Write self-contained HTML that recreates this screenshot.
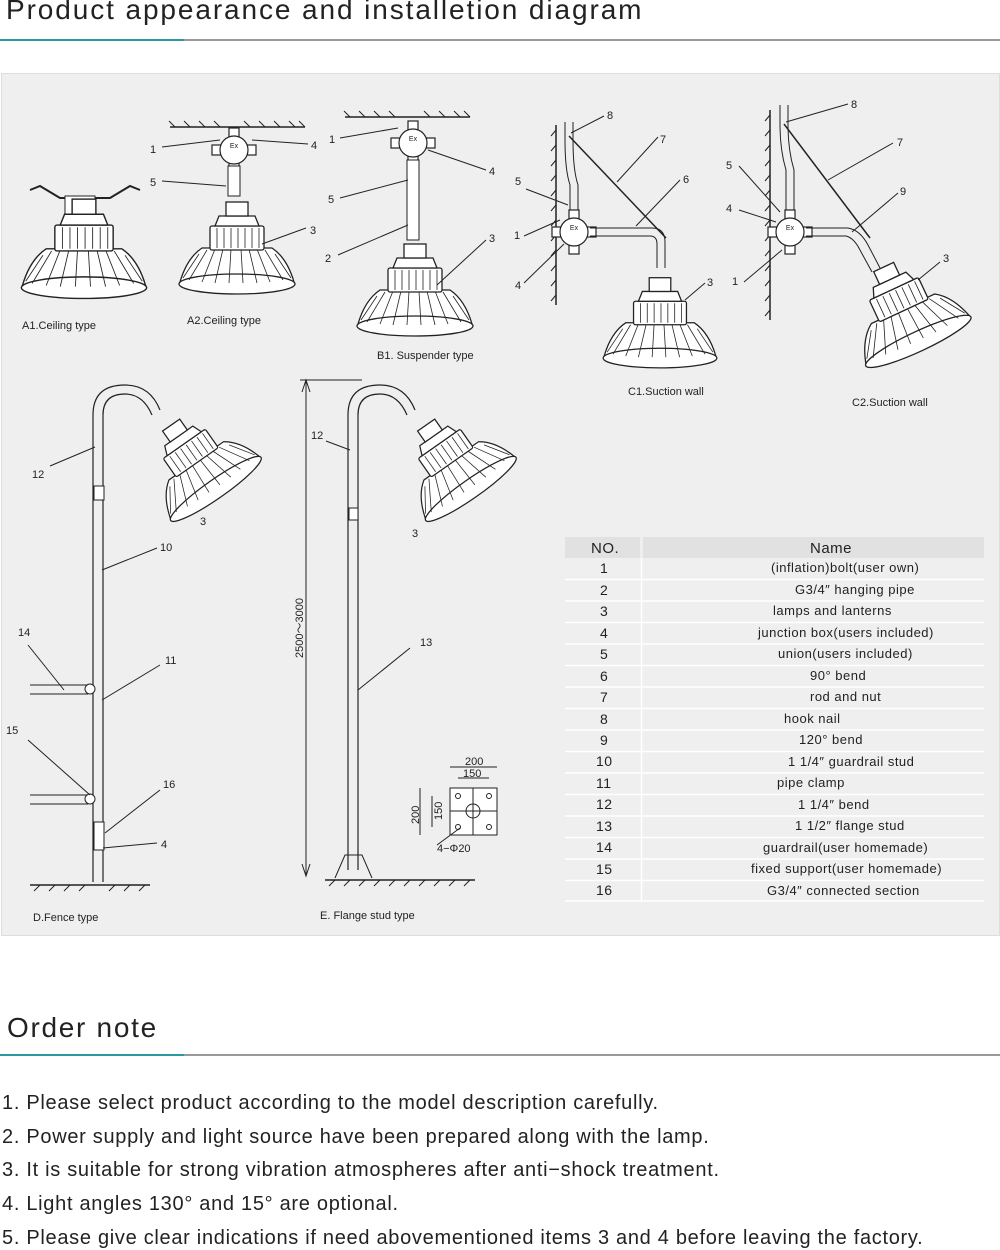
<!DOCTYPE html>
<html><head><meta charset="utf-8"><style>
body{margin:0;width:1000px;height:1250px;background:#fff;font-family:"Liberation Sans",sans-serif;color:#222;position:relative;overflow:hidden}
.h{position:absolute;left:6px;font-size:28px;letter-spacing:1.9px;color:#222;white-space:nowrap}
.ln{position:absolute;height:2px;background:#999}
.tl{position:absolute;height:2px;background:#2a9aa0}
.panel{position:absolute;left:1px;top:73px;width:997px;height:861px;background:#efefef;border:1px solid #ddd}
.note{position:absolute;left:2px;font-size:20px;color:#222;letter-spacing:.7px;white-space:nowrap}
svg text{font-family:"Liberation Sans",sans-serif;fill:#222}
.tb text{letter-spacing:.5px}
</style></head><body>
<div class="h" style="top:-6px">Product appearance and installetion diagram</div>
<div class="ln" style="left:0;top:39px;width:1000px"></div>
<div class="tl" style="left:0;top:39px;width:184px"></div>
<div class="panel"></div>
<svg style="position:absolute;left:0;top:0" width="1000" height="940">
<defs>
<g id="lamp" stroke="#222" stroke-width="1.3" fill="#fff">
<path d="M-57,-6 Q-50,-30 -35,-40 L35,-40 Q50,-30 57,-6 Z"/>
<ellipse cx="0" cy="-4" rx="58" ry="10"/>
<g stroke-width="0.8">
<line x1="-30" y1="-38" x2="-48" y2="-8"/><line x1="-22" y1="-39" x2="-35" y2="-6"/><line x1="-14" y1="-39" x2="-22" y2="-5"/><line x1="-6" y1="-39" x2="-8" y2="-5"/><line x1="4" y1="-39" x2="6" y2="-5"/><line x1="12" y1="-39" x2="20" y2="-5"/><line x1="20" y1="-39" x2="33" y2="-6"/><line x1="28" y1="-38" x2="46" y2="-8"/>
<line x1="-38" y1="-34" x2="-54" y2="-10"/><line x1="38" y1="-34" x2="54" y2="-10"/>
</g>
<rect x="-27" y="-62" width="54" height="24" rx="2"/>
<g stroke-width="0.8"><line x1="-20" y1="-60" x2="-20" y2="-40"/><line x1="-13" y1="-60" x2="-13" y2="-40"/><line x1="-6" y1="-60" x2="-6" y2="-40"/><line x1="1" y1="-60" x2="1" y2="-40"/><line x1="8" y1="-60" x2="8" y2="-40"/><line x1="15" y1="-60" x2="15" y2="-40"/><line x1="22" y1="-60" x2="22" y2="-40"/></g>
<path d="M-22,-62 L-18,-72 L18,-72 L22,-62 Z"/>
<rect x="-11" y="-86" width="22" height="14"/>
</g>
<g id="jb" stroke="#222" stroke-width="1.2" fill="#fff">
<rect x="-22" y="-5" width="44" height="10"/><rect x="-5" y="-22" width="10" height="44"/>
<circle r="14"/><text x="0" y="-2" font-size="7" text-anchor="middle" stroke="none" fill="#222">Ex</text>
</g>
</defs>
<g stroke="#222" stroke-width="1" fill="none" font-size="11">
<!-- A1 -->
<path d="M30,190 L40,186 L60,198 L110,198 L130,186 L140,190" stroke-width="2"/>
<rect x="65" y="196" width="30" height="20" fill="#fff"/>
<use href="#lamp" transform="translate(84,292) scale(1.08)"/>
<!-- A2 -->
<line x1="170" y1="127" x2="305" y2="127" stroke-width="1.5"/>
<path d="M175,127 l-6,-6 M190,127 l-6,-6 M205,127 l-6,-6 M220,127 l-6,-6 M250,127 l-6,-6 M265,127 l-6,-6 M280,127 l-6,-6 M295,127 l-6,-6 M305,127 l-6,-6"/>
<use href="#jb" transform="translate(234,150)"/>
<rect x="228" y="166" width="12" height="30" fill="#fff"/>
<use href="#lamp" transform="translate(237,288)"/>
<line x1="162" y1="147" x2="220" y2="140"/><line x1="252" y1="140" x2="308" y2="144"/><line x1="162" y1="181" x2="226" y2="186"/><line x1="262" y1="244" x2="306" y2="228"/>
<!-- B1 -->
<line x1="345" y1="117" x2="470" y2="117" stroke-width="1.5"/>
<path d="M350,117 l-6,-6 M365,117 l-6,-6 M380,117 l-6,-6 M395,117 l-6,-6 M430,117 l-6,-6 M445,117 l-6,-6 M460,117 l-6,-6 M470,117 l-6,-6"/>
<use href="#jb" transform="translate(413,143)"/>
<rect x="407" y="160" width="12" height="80" fill="#fff"/>
<use href="#lamp" transform="translate(415,330)"/>
<line x1="340" y1="138" x2="398" y2="128"/><line x1="428" y1="150" x2="486" y2="170"/><line x1="340" y1="198" x2="408" y2="180"/><line x1="338" y1="255" x2="408" y2="225"/><line x1="437" y1="285" x2="486" y2="240"/>
<!-- C1 -->
<line x1="556" y1="125" x2="556" y2="305" stroke-width="1.5"/>
<path d="M556,130 l-5,6 M556,145 l-5,6 M556,160 l-5,6 M556,175 l-5,6 M556,190 l-5,6 M556,205 l-5,6 M556,220 l-5,6 M556,235 l-5,6 M556,250 l-5,6 M556,265 l-5,6 M556,280 l-5,6 M556,295 l-5,6"/>
<line x1="565" y1="122" x2="565" y2="140"/><line x1="573" y1="122" x2="573" y2="140"/>
<path d="M565,140 Q565,170 570,185 L570,215 M573,140 Q573,170 578,185 L578,215"/>
<use href="#jb" transform="translate(574,232)"/>
<path d="M590,228 L652,228 Q665,228 665,242 L665,268 M590,236 L650,236 Q657,236 657,244 L657,268"/>
<line x1="569" y1="136" x2="666" y2="238" stroke-width="1.5"/>
<use href="#lamp" transform="translate(660,362) scale(0.98)"/>
<line x1="571" y1="133" x2="604" y2="116"/><line x1="617" y1="182" x2="658" y2="137"/><line x1="636" y1="226" x2="680" y2="180"/><line x1="526" y1="189" x2="568" y2="205"/><line x1="524" y1="236" x2="560" y2="220"/><line x1="524" y1="283" x2="564" y2="244"/><line x1="685" y1="300" x2="705" y2="283"/>
<!-- C2 -->
<line x1="770" y1="110" x2="770" y2="320" stroke-width="1.5"/>
<path d="M770,115 l-5,6 M770,130 l-5,6 M770,145 l-5,6 M770,160 l-5,6 M770,175 l-5,6 M770,190 l-5,6 M770,205 l-5,6 M770,220 l-5,6 M770,235 l-5,6 M770,250 l-5,6 M770,265 l-5,6 M770,280 l-5,6 M770,295 l-5,6 M770,310 l-5,6"/>
<line x1="780" y1="105" x2="780" y2="125"/><line x1="788" y1="105" x2="788" y2="125"/>
<path d="M780,125 Q780,150 786,170 L786,215 M788,125 Q788,150 794,170 L794,215"/>
<use href="#jb" transform="translate(790,232)"/>
<path d="M806,228 L848,228 Q860,230 868,245 L880,268 M806,236 L846,236 Q854,238 860,250 L872,272"/>
<line x1="784" y1="124" x2="870" y2="238" stroke-width="1.5"/>
<use href="#lamp" transform="translate(920,345) rotate(-25)"/>
<line x1="786" y1="122" x2="848" y2="104"/><line x1="828" y1="180" x2="893" y2="143"/><line x1="852" y1="232" x2="898" y2="193"/><line x1="739" y1="166" x2="780" y2="212"/><line x1="739" y1="210" x2="776" y2="222"/><line x1="744" y1="282" x2="782" y2="250"/><line x1="918" y1="280" x2="940" y2="262"/>
<!-- D -->
<path d="M93,882 L93,415 Q93,385 125,385 Q150,385 160,410 M103,882 L103,415 Q103,394 125,394 Q143,394 152,415" stroke-width="1.2"/>
<use href="#lamp" transform="translate(218,492) rotate(-35) scale(0.95)"/>
<line x1="30" y1="885" x2="150" y2="885" stroke-width="1.5"/>
<path d="M40,885 l-6,6 M55,885 l-6,6 M70,885 l-6,6 M85,885 l-6,6 M115,885 l-6,6 M130,885 l-6,6 M145,885 l-6,6"/>
<path d="M30,685 L88,685 M30,694 L88,694 M30,795 L88,795 M30,804 L88,804"/>
<circle cx="90" cy="689" r="5" fill="#fff"/><circle cx="90" cy="799" r="5" fill="#fff"/>
<rect x="94" y="486" width="10" height="14" fill="#fff"/><rect x="94" y="822" width="10" height="28" fill="#fff"/>
<line x1="50" y1="466" x2="95" y2="447"/><line x1="102" y1="570" x2="157" y2="548"/><line x1="102" y1="700" x2="160" y2="665"/><line x1="28" y1="645" x2="64" y2="690"/><line x1="28" y1="740" x2="90" y2="795"/><line x1="105" y1="833" x2="160" y2="790"/><line x1="103" y1="848" x2="157" y2="843"/>
<!-- E -->
<path d="M348,870 L348,415 Q348,385 380,385 Q405,385 415,410 M358,870 L358,415 Q358,394 380,394 Q398,394 407,415" stroke-width="1.2"/>
<use href="#lamp" transform="translate(473,492) rotate(-35) scale(0.95)"/>
<rect x="349" y="508" width="9" height="12" fill="#fff"/>
<path d="M335,878 L345,855 L362,855 L372,878"/>
<line x1="325" y1="880" x2="475" y2="880" stroke-width="1.5"/>
<path d="M335,880 l-6,6 M350,880 l-6,6 M365,880 l-6,6 M380,880 l-6,6 M395,880 l-6,6 M410,880 l-6,6 M425,880 l-6,6 M440,880 l-6,6 M455,880 l-6,6 M470,880 l-6,6"/>
<line x1="300" y1="380" x2="362" y2="380"/><line x1="306" y1="382" x2="306" y2="876"/>
<path d="M302,392 L306,380 L310,392 M302,864 L306,876 L310,864"/>
<line x1="326" y1="441" x2="350" y2="450"/><line x1="358" y1="690" x2="410" y2="648"/>
<rect x="450" y="788" width="47" height="47" fill="#fff"/><line x1="473" y1="788" x2="473" y2="835"/><line x1="450" y1="811" x2="497" y2="811"/><circle cx="473" cy="811" r="7"/>
<circle cx="458" cy="796" r="2.5"/><circle cx="489" cy="796" r="2.5"/><circle cx="458" cy="827" r="2.5"/><circle cx="489" cy="827" r="2.5"/>
<line x1="450" y1="767" x2="497" y2="767"/><line x1="458" y1="778" x2="489" y2="778"/>
<line x1="420" y1="788" x2="420" y2="835"/><line x1="432" y1="796" x2="432" y2="827"/>
<line x1="437" y1="845" x2="460" y2="828"/>
</g>
<g font-size="11">
<text x="150" y="153">1</text><text x="150" y="186">5</text><text x="311" y="149">4</text><text x="310" y="234">3</text>
<text x="329" y="143">1</text><text x="489" y="175">4</text><text x="328" y="203">5</text><text x="325" y="262">2</text><text x="489" y="242">3</text>
<text x="607" y="119">8</text><text x="660" y="143">7</text><text x="683" y="183">6</text><text x="515" y="185">5</text><text x="514" y="239">1</text><text x="515" y="289">4</text><text x="707" y="286">3</text>
<text x="851" y="108">8</text><text x="897" y="146">7</text><text x="900" y="195">9</text><text x="726" y="169">5</text><text x="726" y="212">4</text><text x="732" y="285">1</text><text x="943" y="262">3</text>
<text x="32" y="478">12</text><text x="160" y="551">10</text><text x="165" y="664">11</text><text x="18" y="636">14</text><text x="6" y="734">15</text><text x="163" y="788">16</text><text x="161" y="848">4</text><text x="200" y="525">3</text>
<text x="311" y="439">12</text><text x="420" y="646">13</text><text x="412" y="537">3</text>
<text x="465" y="765">200</text><text x="463" y="777">150</text><text x="437" y="852">4−Φ20</text>
<text transform="translate(419,824) rotate(-90)">200</text><text transform="translate(442,820) rotate(-90)">150</text>
<text transform="translate(303,658) rotate(-90)">2500～3000</text>
<text x="22" y="329">A1.Ceiling type</text><text x="187" y="324">A2.Ceiling type</text><text x="377" y="359">B1. Suspender type</text>
<text x="628" y="395">C1.Suction wall</text><text x="852" y="406">C2.Suction wall</text>
<text x="33" y="921">D.Fence type</text><text x="320" y="919">E. Flange stud type</text>
</g>
<g font-size="13" class="tb">
<rect x="565" y="537" width="75" height="21" fill="#e1e1e1"/><rect x="643" y="537" width="341" height="21" fill="#e1e1e1"/>
<text x="591" y="553" font-size="15">NO.</text><text x="810" y="553" font-size="15">Name</text>
<g stroke="#fff" stroke-width="1.5"><line x1="565" y1="579.5" x2="984" y2="579.5"/><line x1="565" y1="601" x2="984" y2="601"/><line x1="565" y1="622.5" x2="984" y2="622.5"/><line x1="565" y1="644" x2="984" y2="644"/><line x1="565" y1="665.5" x2="984" y2="665.5"/><line x1="565" y1="687" x2="984" y2="687"/><line x1="565" y1="708.5" x2="984" y2="708.5"/><line x1="565" y1="730" x2="984" y2="730"/><line x1="565" y1="751.5" x2="984" y2="751.5"/><line x1="565" y1="773" x2="984" y2="773"/><line x1="565" y1="794.5" x2="984" y2="794.5"/><line x1="565" y1="816" x2="984" y2="816"/><line x1="565" y1="837.5" x2="984" y2="837.5"/><line x1="565" y1="859" x2="984" y2="859"/><line x1="565" y1="880.5" x2="984" y2="880.5"/><line x1="565" y1="901" x2="984" y2="901"/><line x1="641.5" y1="558" x2="641.5" y2="901"/></g>
<g font-size="14"><text x="600" y="573">1</text><text x="600" y="595">2</text><text x="600" y="616">3</text><text x="600" y="638">4</text><text x="600" y="659">5</text><text x="600" y="681">6</text><text x="600" y="702">7</text><text x="600" y="724">8</text><text x="600" y="745">9</text><text x="596" y="766">10</text><text x="596" y="788">11</text><text x="596" y="809">12</text><text x="596" y="831">13</text><text x="596" y="852">14</text><text x="596" y="874">15</text><text x="596" y="895">16</text></g>
<text x="771" y="572">(inflation)bolt(user own)</text><text x="795" y="594">G3/4″  hanging pipe</text><text x="773" y="615">lamps and lanterns</text><text x="758" y="637">junction box(users included)</text><text x="778" y="658">union(users included)</text><text x="810" y="680">90°  bend</text><text x="810" y="701">rod and nut</text><text x="784" y="723">hook nail</text><text x="799" y="744">120°  bend</text><text x="788" y="766">1 1/4″  guardrail stud</text><text x="777" y="787">pipe clamp</text><text x="798" y="809">1 1/4″  bend</text><text x="795" y="830">1 1/2″  flange stud</text><text x="763" y="852">guardrail(user homemade)</text><text x="751" y="873">fixed support(user homemade)</text><text x="767" y="895">G3/4″  connected section</text>
</g>
</svg>
<div class="h" style="top:1012px;left:7px;letter-spacing:1.7px">Order note</div>
<div class="ln" style="left:0;top:1054px;width:1000px"></div>
<div class="tl" style="left:0;top:1054px;width:184px"></div>
<div class="note" style="top:1092px">1. Please select product according to the model description carefully.</div>
<div class="note" style="top:1126px">2. Power supply and light source have been prepared along with the lamp.</div>
<div class="note" style="top:1159px">3. It is suitable for strong vibration atmospheres after anti−shock treatment.</div>
<div class="note" style="top:1193px">4. Light angles 130°  and 15°  are optional.</div>
<div class="note" style="top:1227px">5. Please give clear indications if need abovementioned items 3 and 4 before leaving the factory.</div>
</body></html>
